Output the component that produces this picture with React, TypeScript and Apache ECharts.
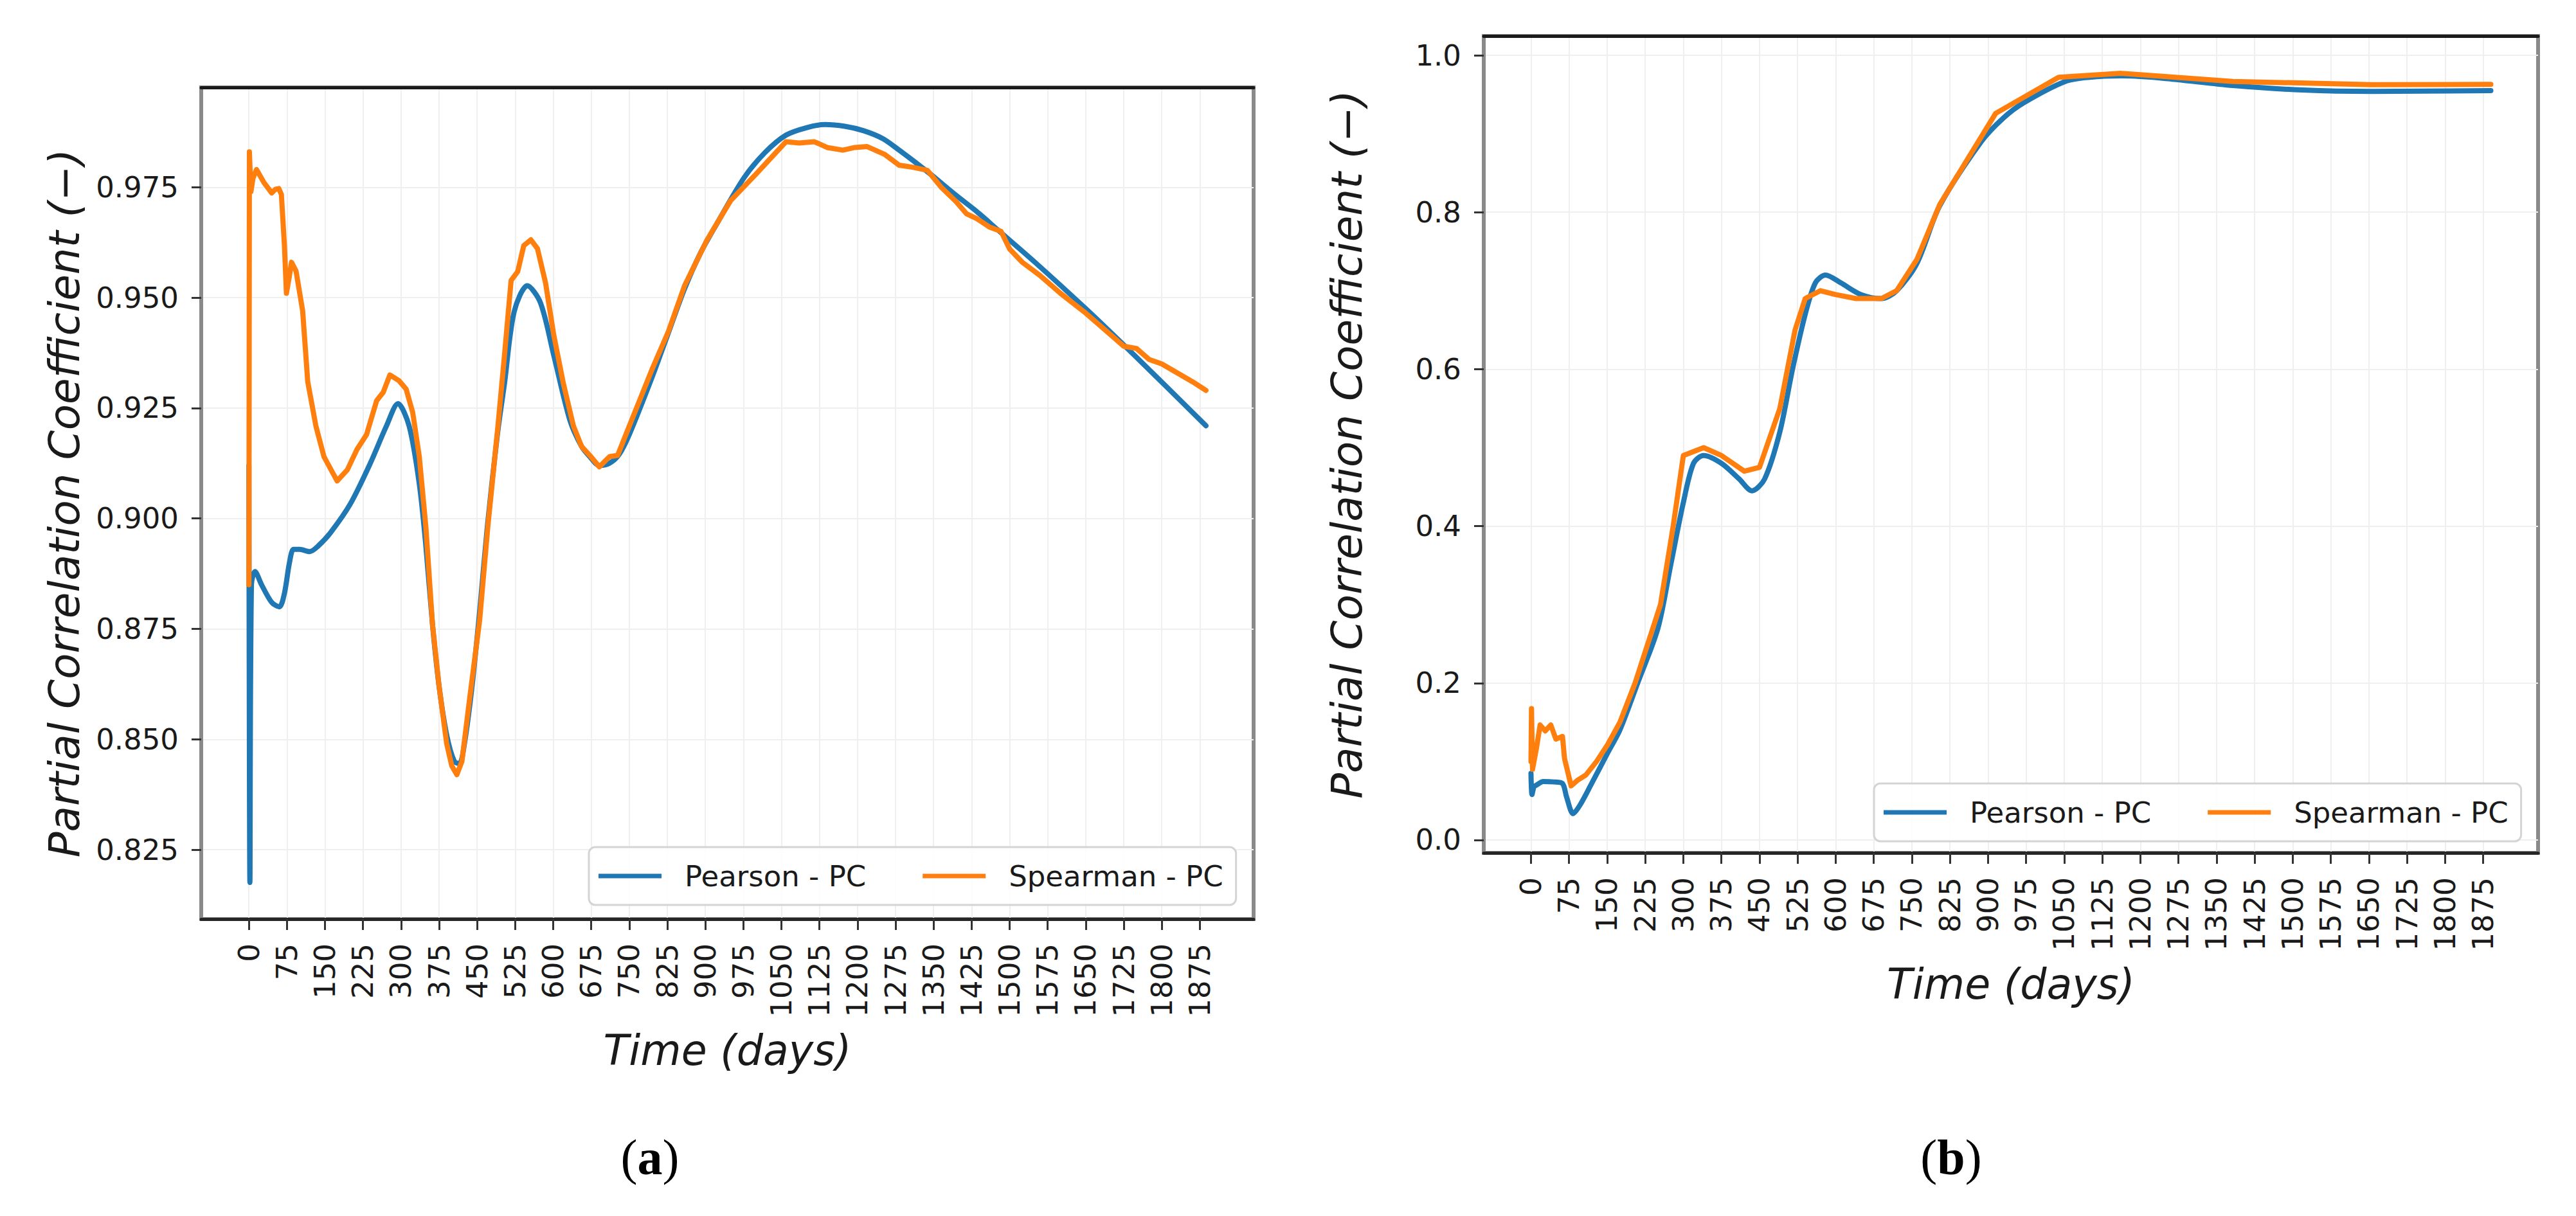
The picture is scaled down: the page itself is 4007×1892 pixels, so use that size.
import React, { useEffect, useRef } from "react";
import * as echarts from "echarts";

// ---------- data: chart (a) ----------
const pearsonADays = [0, 2, 5, 12, 25, 45, 60, 70, 80, 88, 100, 120, 136, 161, 200, 239, 271, 294, 316, 336, 349, 362, 375, 390, 405, 415, 425, 440, 455, 470, 490, 504, 523, 549, 575, 601, 633, 656, 672, 691, 711, 730, 750, 795, 827, 859, 890, 921, 976, 1018, 1059, 1100, 1136, 1175, 1212, 1250, 1282, 1338, 1394, 1435, 1476, 1550, 1650, 1750, 1887];
const pearsonAValues = [0.912, 0.8176, 0.885, 0.888, 0.885, 0.881, 0.88, 0.883, 0.89, 0.893, 0.893, 0.8925, 0.8937, 0.8968, 0.9033, 0.9124, 0.9209, 0.926, 0.9209, 0.9078, 0.8937, 0.876, 0.862, 0.851, 0.845, 0.8445, 0.849, 0.862, 0.879, 0.898, 0.919, 0.9306, 0.9468, 0.9527, 0.9488, 0.937, 0.9222, 0.9163, 0.914, 0.912, 0.9125, 0.9145, 0.919, 0.932, 0.942, 0.952, 0.96, 0.9664, 0.9771, 0.9829, 0.9868, 0.9885, 0.9892, 0.9888, 0.9878, 0.986, 0.9834, 0.9785, 0.9732, 0.9695, 0.9654, 0.958, 0.9475, 0.9365, 0.921];

const spearmanADays = [0, 1, 4, 8, 15, 30, 45, 52, 59, 64, 70, 74, 80, 84, 93, 106, 116, 132, 148, 174, 194, 213, 232, 252, 265, 278, 296, 310, 323, 336, 349, 362, 375, 390, 400, 410, 420, 435, 455, 471, 491, 504, 517, 530, 542, 556, 569, 585, 601, 620, 640, 656, 672, 691, 711, 727, 750, 795, 827, 859, 903, 950, 1000, 1059, 1085, 1115, 1140, 1171, 1195, 1219, 1254, 1282, 1310, 1338, 1365, 1394, 1415, 1435, 1460, 1483, 1500, 1525, 1560, 1600, 1650, 1700, 1725, 1750, 1775, 1800, 1830, 1860, 1887];
const spearmanAValues = [0.885, 0.983, 0.974, 0.977, 0.979, 0.976, 0.9737, 0.9745, 0.9747, 0.9734, 0.962, 0.951, 0.955, 0.958, 0.956, 0.947, 0.931, 0.921, 0.914, 0.9085, 0.911, 0.9156, 0.919, 0.9267, 0.9286, 0.9325, 0.9312, 0.9293, 0.924, 0.914, 0.898, 0.876, 0.862, 0.849, 0.844, 0.842, 0.845, 0.859, 0.877, 0.898, 0.9209, 0.937, 0.9539, 0.9559, 0.9618, 0.9631, 0.9611, 0.9533, 0.9416, 0.9306, 0.9209, 0.9163, 0.9143, 0.9117, 0.914, 0.9143, 0.9209, 0.9338, 0.9423, 0.9527, 0.963, 0.972, 0.978, 0.9853, 0.985, 0.9853, 0.984, 0.9834, 0.984, 0.9842, 0.9824, 0.98, 0.9795, 0.9788, 0.975, 0.9718, 0.969, 0.9679, 0.966, 0.965, 0.961, 0.958, 0.955, 0.951, 0.9465, 0.9415, 0.939, 0.9385, 0.936, 0.935, 0.933, 0.931, 0.929];

// ---------- data: chart (b) ----------
const pearsonBDays = [0, 2, 6, 11, 24, 45, 62, 70, 83, 96, 117, 151, 175, 210, 250, 275, 300, 320, 340, 375, 410, 435, 460, 490, 515, 540, 560, 580, 610, 650, 690, 720, 760, 805, 887, 930, 970, 1052, 1100, 1162, 1244, 1382, 1519, 1656, 1890];
const pearsonBValues = [0.085, 0.058, 0.068, 0.07, 0.0745, 0.074, 0.072, 0.055, 0.0336, 0.044, 0.069, 0.111, 0.14, 0.2, 0.27, 0.35, 0.43, 0.48, 0.49, 0.48, 0.46, 0.445, 0.46, 0.52, 0.6, 0.67, 0.71, 0.72, 0.71, 0.695, 0.69, 0.7, 0.735, 0.8084, 0.8903, 0.92, 0.9394, 0.9667, 0.972, 0.9738, 0.9708, 0.9615, 0.9558, 0.954, 0.955];

const spearmanBDays = [0, 1, 3, 11, 18, 28, 39, 49, 62, 66, 79, 91, 108, 129, 151, 175, 205, 255, 280, 300, 340, 375, 420, 450, 490, 520, 540, 570, 600, 640, 690, 720, 760, 805, 915, 1039, 1162, 1382, 1656, 1890];
const spearmanBValues = [0.1, 0.1675, 0.09, 0.118, 0.1466, 0.139, 0.1466, 0.1286, 0.132, 0.104, 0.069, 0.0758, 0.0828, 0.1, 0.1216, 0.15, 0.2, 0.3, 0.4, 0.49, 0.5, 0.49, 0.47, 0.475, 0.55, 0.65, 0.69, 0.7, 0.695, 0.69, 0.69, 0.7, 0.74, 0.81, 0.926, 0.972, 0.977, 0.9667, 0.9626, 0.963];

// ---------- ticks ----------
const xTicks = [0, 75, 150, 225, 300, 375, 450, 525, 600, 675, 750, 825, 900, 975, 1050, 1125, 1200, 1275, 1350, 1425, 1500, 1575, 1650, 1725, 1800, 1875];
const yTicksA = [0.825, 0.85, 0.875, 0.9, 0.925, 0.95, 0.975];
const yTicksB = [0, 0.2, 0.4, 0.6, 0.8, 1.0];

const SERIES_NAMES = ["Pearson - PC", "Spearman - PC"];
const X_NAME = "Time (days)";
const Y_NAME = "Partial Correlation Coefficient (\u2212)";

const FONT = "DejaVu Sans";
const BLUE = "#1f77b4";
const ORANGE = "#ff7f0e";

const zip = (d: number[], v: number[]) => d.map((x, i) => [x, v[i]]);

function bottomX(gridIndex: number, min: number, max: number) {
  return {
    type: "value",
    gridIndex,
    position: "bottom",
    min,
    max,
    name: X_NAME,
    nameLocation: "middle",
    nameGap: 172,
    nameTextStyle: { fontFamily: FONT, fontSize: 65, fontStyle: "italic", color: "#1a1a1a" },
    axisLine: { show: true, onZero: false, lineStyle: { color: "#262626", width: 5 } },
    axisTick: { show: true, length: 17, customValues: xTicks, lineStyle: { color: "#333", width: 3 } },
    axisLabel: {
      show: true,
      rotate: 90,
      margin: 38,
      customValues: xTicks,
      fontFamily: FONT,
      fontSize: 45,
      color: "#1a1a1a",
      formatter: (v: number) => String(v),
    },
    splitLine: { show: true, lineStyle: { color: "#efefef", width: 2 } },
  };
}

function topX(gridIndex: number, min: number, max: number) {
  return {
    type: "value",
    gridIndex,
    position: "top",
    min,
    max,
    axisLine: { show: true, onZero: false, lineStyle: { color: "#1a1a1a", width: 5 } },
    axisTick: { show: false },
    axisLabel: { show: false },
    splitLine: { show: false },
  };
}

function leftY(gridIndex: number, min: number, max: number, ticks: number[], digits: number) {
  return {
    type: "value",
    gridIndex,
    min,
    max,
    name: Y_NAME,
    nameLocation: "middle",
    nameRotate: 90,
    nameGap: 180,
    nameTextStyle: { fontFamily: FONT, fontSize: 66, fontStyle: "italic", color: "#1a1a1a" },
    axisLine: { show: true, onZero: false, lineStyle: { color: "#8a8a8a", width: 6 } },
    axisTick: { show: true, length: 15, customValues: ticks, lineStyle: { color: "#333", width: 3 } },
    axisLabel: {
      show: true,
      margin: 35,
      customValues: ticks,
      fontFamily: FONT,
      fontSize: 45,
      color: "#1a1a1a",
      formatter: (v: number) => v.toFixed(digits),
    },
    splitLine: { show: true, lineStyle: { color: "#efefef", width: 2 } },
  };
}

function legendAt(left: number, top: number) {
  return {
    show: true,
    orient: "horizontal",
    left,
    top,
    data: SERIES_NAMES,
    icon: "rect",
    itemWidth: 98,
    itemHeight: 7,
    itemGap: 88,
    padding: [20, 20, 20, 15],
    backgroundColor: "rgba(255,255,255,0.85)",
    borderColor: "#d4d4d4",
    borderWidth: 3,
    borderRadius: 10,
    selectedMode: false,
    textStyle: {
      fontFamily: FONT,
      fontSize: 45,
      color: "#1a1a1a",
      lineHeight: 50,
      padding: [0, 0, 0, 31],
    },
  };
}

function lineSeries(name: string, color: string, data: number[][], xi: number, yi: number, smooth: number) {
  return {
    type: "line",
    name,
    xAxisIndex: xi,
    yAxisIndex: yi,
    data,
    symbol: "none",
    showSymbol: false,
    smooth,
    lineStyle: { color, width: 8, join: "round", cap: "round" },
    itemStyle: { color },
    emphasis: { disabled: true },
  };
}

export default function App() {
  const ref = useRef<HTMLDivElement>(null);

  useEffect(() => {
    if (!ref.current) return;
    const chart = echarts.init(ref.current, null, { renderer: "svg" });
    const option: any = {
      animation: false,
      backgroundColor: "#ffffff",
      grid: [
        { left: 313, top: 136, width: 1637, height: 1294, show: true, borderColor: "#8a8a8a", borderWidth: 6, backgroundColor: "#fff" },
        { left: 2308, top: 56, width: 1640, height: 1271, show: true, borderColor: "#8a8a8a", borderWidth: 6, backgroundColor: "#fff" },
      ],
      xAxis: [bottomX(0, -94, 1981), bottomX(1, -93, 1983), topX(0, -94, 1981), topX(1, -93, 1983)],
      yAxis: [leftY(0, 0.8093, 0.9976, yTicksA, 3), leftY(1, -0.0164, 1.0246, yTicksB, 1)],
      legend: [legendAt(916, 1318), legendAt(2915, 1219)],
      series: [
        lineSeries(SERIES_NAMES[0], BLUE, zip(pearsonADays, pearsonAValues), 0, 0, 0.3),
        lineSeries(SERIES_NAMES[1], ORANGE, zip(spearmanADays, spearmanAValues), 0, 0, 0),
        lineSeries(SERIES_NAMES[0], BLUE, zip(pearsonBDays, pearsonBValues), 1, 1, 0.3),
        lineSeries(SERIES_NAMES[1], ORANGE, zip(spearmanBDays, spearmanBValues), 1, 1, 0),
      ],
      graphic: [
        {
          type: "text",
          x: 1011,
          y: 1800,
          style: {
            text: "({b|a})",
            fontFamily: "Liberation Serif",
            fontSize: 78,
            fill: "#000",
            align: "center",
            verticalAlign: "middle",
            rich: { b: { fontFamily: "Liberation Serif", fontSize: 78, fontWeight: "bold", fill: "#000" } },
          },
        },
        {
          type: "text",
          x: 3035,
          y: 1800,
          style: {
            text: "({b|b})",
            fontFamily: "Liberation Serif",
            fontSize: 78,
            fill: "#000",
            align: "center",
            verticalAlign: "middle",
            rich: { b: { fontFamily: "Liberation Serif", fontSize: 78, fontWeight: "bold", fill: "#000" } },
          },
        },
      ],
    };
    chart.setOption(option);
    return () => chart.dispose();
  }, []);

  return (
    <div
      ref={ref}
      style={{ position: "absolute", left: 0, top: 0, width: 4007, height: 1892, background: "#fff" }}
    />
  );
}
